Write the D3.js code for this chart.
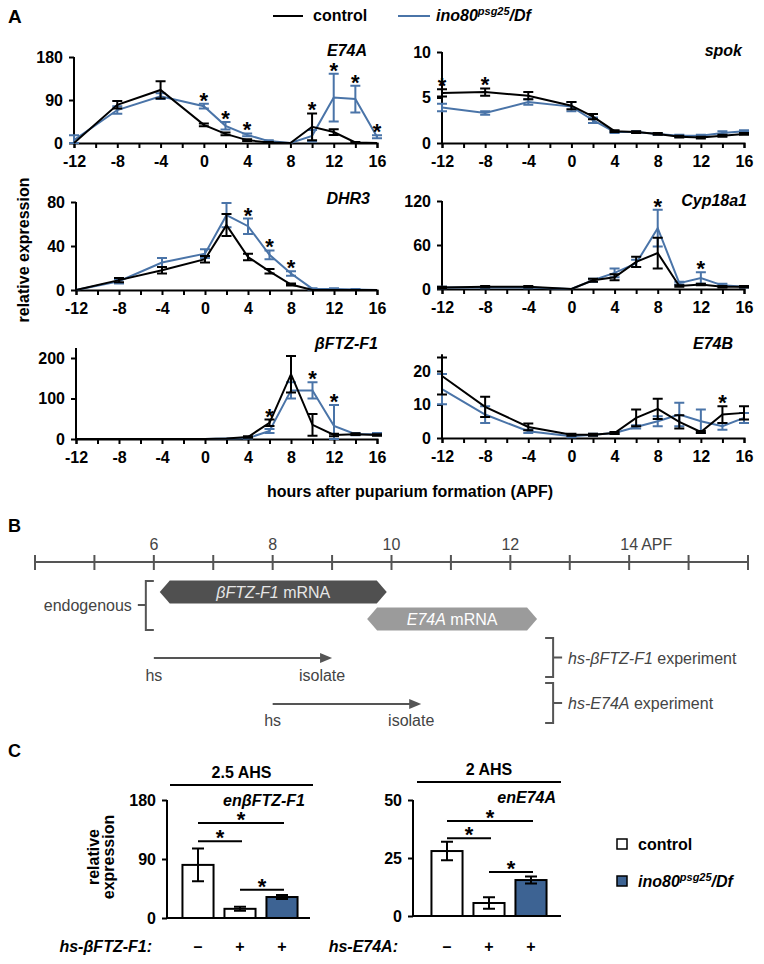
<!DOCTYPE html>
<html><head><meta charset="utf-8">
<script src="https://cdn.jsdelivr.net/npm/d3@7"></script>
<style>
body{margin:0;background:#fff;}
svg{font-family:"Liberation Sans",Arial,sans-serif;}
</style></head>
<body><svg id="c" width="764" height="964"></svg>
<script>
// ---------- DATA ----------
const hours = [-12,-8,-4,0,2,4,6,8,10,12,14,16];
const hourLabels = [-12,-8,-4,0,4,8,12,16];
const seriesNames = ["control","ino80psg25/Df"];

const e74aCtrl = [0,80,111,38,19,6,1,0,34,23,1,0];
const e74aCtrlErr = [0,8,18,3,3,2,1,0,28,6,1,0];
const e74aIno = [6,69,98,77,36,17,4,0,15,95,92,13];
const e74aInoErr = [10,8,6,5,8,3,2,0,12,50,28,3];
const e74aStars = [0,2,4,10,12,14,16];
const e74aTicks = [0,90,180];

const spokCtrl = [5.5,5.6,5.2,4.1,2.9,1.3,1.2,1.0,0.7,0.6,0.8,1.0];
const spokCtrlErr = [0.4,0.4,0.4,0.4,0.3,0.1,0.1,0.1,0.1,0.1,0.1,0.1];
const spokIno = [3.9,3.3,4.5,4.0,2.5,1.2,1.2,1.0,0.8,0.8,1.1,1.3];
const spokInoErr = [0.4,0.2,0.3,0.5,0.3,0.1,0.1,0.1,0.1,0.1,0.2,0.1];
const spokStars = [-12,-8];
const spokTicks = [0,5,10];

const dhr3Ctrl = [0,9,18,28,59,30,17,5,0,0,0,0];
const dhr3CtrlErr = [0,2,3,3,10,3,2,1,0,0,0,0];
const dhr3Ino = [0,8,25,33,68,58,32,15,1,1,0.5,0];
const dhr3InoErr = [0,2,4,4,11,7,4,2,0.5,0.5,0.5,0];
const dhr3Stars = [4,6,8];
const dhr3Ticks = [0,40,80];

const cypCtrl = [2,3,3,0,12,16,37,49,4,6,3,3];
const cypCtrlErr = [1,1,1,0,2,4,7,21,1,1,1,1];
const cypIno = [2,2,2,0,12,22,35,83,8,15,5,3];
const cypInoErr = [1,1,1,0,2,6,5,25,2,8,2,1];
const cypStars = [8,12];
const cypTicks = [0,60,120];

const ftzCtrl = [0,0,0,0,1,5,40,160,35,10,12,10];
const ftzCtrlErr = [0,0,0,0,0,2,8,45,27,3,2,2];
const ftzIno = [0,0,0,0,1,2,20,120,120,32,12,12];
const ftzInoErr = [0,0,0,0,0,1,5,20,20,52,3,3];
const ftzStars = [6,10,12];
const ftzTicks = [0,100,200];

const e74bCtrl = [18.5,9.3,3.3,1,1,1.5,6,8.7,4.8,1.8,7,7.5];
const e74bCtrlErr = [5.5,3,1,0.3,0.3,0.3,2.5,3,2,0.3,2.5,2];
const e74bIno = [14.6,7,2,0.5,1,1.5,3.3,5,7,5,3.5,6];
const e74bInoErr = [4.5,2.5,0.5,0.3,0.3,0.3,0.5,1.5,3.5,3.5,1,1.5];
const e74bStars = [14];
const e74bTicks = [0,10,20];

// Panel B (hours APF)
const timelineHours = [4,5,6,7,8,9,10,11,12,13,14,15,16];
const timelineLabels = [6,8,10,12,14];
const mrnaNames = ["βFTZ-F1","E74A"];
const mrnaStart = [6.1,9.59];
const mrnaEnd = [9.92,12.45];
const hsStart = [6,8];
const isolateAt = [9,10.5];
const experimentNames = ["hs-βFTZ-F1","hs-E74A"];

// Panel C
const cConditions = ["–","+","+"];
const cGenotype = ["control","control","ino80"];
const ftzC = [81,14,32];
const ftzCErr = [25,3,3];
const ftzCTicks = [0,90,180];
const ftzCSig = [[0,1,117],[0,2,145],[1,2,43]];
const e74aC = [28,5.6,15.5];
const e74aCErr = [4,2.5,1.5];
const e74aCTicks = [0,25,50];
const e74aCSig = [[0,1,33.5],[0,2,41],[1,2,19]];

// ---------- DRAW ----------
const BLUE = "#4a74a8", BAR = "#3d6393", GRAY = "#555";
const svg = d3.select("#c");
const FS = 16;

function label(g, txt, x, y, opt={}) {
  return g.append("text").attr("x",x).attr("y",y).text(txt)
    .attr("font-size", opt.size||FS).attr("font-weight", opt.weight||"bold")
    .attr("font-style", opt.style||"normal").attr("text-anchor", opt.anchor||"start")
    .attr("fill", opt.fill||"#000");
}
function star(g, x, yLine) {
  return label(g,"*",x,yLine+4,{anchor:"middle",size:22});
}
function inoText(g, x, y, anchor) {
  const t = g.append("text").attr("x",x).attr("y",y).attr("font-size",FS)
    .attr("font-weight","bold").attr("font-style","italic").attr("text-anchor",anchor||"start");
  t.append("tspan").text("ino80");
  t.append("tspan").text("psg25").attr("font-size",11).attr("dy",-6);
  t.append("tspan").text("/Df").attr("dy",6);
  return t;
}

// Panel A
const panels = [
  {name:"E74A", c:e74aCtrl, ce:e74aCtrlErr, i:e74aIno, ie:e74aInoErr, st:e74aStars, ticks:e74aTicks, max:180, x0:74, x1:377, y0:143, yT:57, labY:56, lx:367},
  {name:"spok", c:spokCtrl, ce:spokCtrlErr, i:spokIno, ie:spokInoErr, st:spokStars, ticks:spokTicks, max:10, x0:442, x1:744, y0:143, yT:52, labY:56, lx:742},
  {name:"DHR3", c:dhr3Ctrl, ce:dhr3CtrlErr, i:dhr3Ino, ie:dhr3InoErr, st:dhr3Stars, ticks:dhr3Ticks, max:80, x0:76, x1:377, y0:290, yT:202, labY:204, lx:370},
  {name:"Cyp18a1", c:cypCtrl, ce:cypCtrlErr, i:cypIno, ie:cypInoErr, st:cypStars, ticks:cypTicks, max:120, x0:442, x1:744, y0:289, yT:201, labY:206, lx:747},
  {name:"βFTZ-F1", c:ftzCtrl, ce:ftzCtrlErr, i:ftzIno, ie:ftzInoErr, st:ftzStars, ticks:ftzTicks, max:200, x0:76, x1:377, y0:439, yT:358, top:225, labY:349, lx:378},
  {name:"E74B", c:e74bCtrl, ce:e74bCtrlErr, i:e74bIno, ie:e74bInoErr, st:e74bStars, ticks:e74bTicks, max:20, x0:442, x1:744, y0:438, yT:371, top:25, labY:349, lx:733}
];

panels.forEach(p => {
  const g = svg.append("g");
  const x = d3.scaleLinear().domain([-12,16]).range([p.x0,p.x1]);
  const y = d3.scaleLinear().domain([0,p.max]).range([p.y0,p.yT]);
  const top = p.top || p.max;
  const xa = d3.axisBottom(x).tickValues(d3.range(-12,17,2)).tickSize(5).tickPadding(8)
    .tickFormat(d => hourLabels.includes(d) ? d : "");
  const gx = g.append("g").attr("transform",`translate(0,${p.y0})`).call(xa);
  const ya = d3.axisLeft(y).tickValues(p.ticks).tickSize(5).tickPadding(6);
  const gy = g.append("g").attr("transform",`translate(${p.x0},0)`).call(ya);
  gy.select(".domain").attr("d",`M0,${p.y0}V${y(top)}`);
  [gx,gy].forEach(a => {
    a.select(".domain").attr("stroke","#000").attr("stroke-width",2);
    a.selectAll(".tick line").attr("stroke","#000").attr("stroke-width",2);
    a.selectAll("text").attr("font-size",FS).attr("font-weight","bold").attr("fill","#000")
      .attr("font-family","Liberation Sans, Arial, sans-serif");
  });
  const line = d3.line().x((d,k)=>x(hours[k])).y(d=>y(d));
  const series = [{v:p.i, e:p.ie, col:BLUE},{v:p.c, e:p.ce, col:"#000"}];
  series.forEach(s => {
    g.append("path").attr("d",line(s.v)).attr("fill","none").attr("stroke",s.col).attr("stroke-width",2);
    s.v.forEach((v,k) => {
      if (!s.e[k]) return;
      const hx = x(hours[k]), yt = y(v+s.e[k]), yb = y(Math.max(0,v-s.e[k]));
      g.append("path").attr("d",`M${hx},${yt}V${yb}M${hx-5},${yt}H${hx+5}M${hx-5},${yb}H${hx+5}`)
        .attr("stroke",s.col).attr("stroke-width",2).attr("fill","none");
    });
  });
  p.st.forEach(h => {
    const k = hours.indexOf(h);
    const t = Math.max(p.c[k]+p.ce[k], p.i[k]+p.ie[k]);
    star(g, x(h), y(t));
  });
  label(g,p.name,p.lx,p.labY,{anchor:"end",style:"italic"});
});

// A labels & legend
label(svg,"A",8,23,{size:19});
svg.append("line").attr("x1",273).attr("x2",303).attr("y1",16).attr("y2",16).attr("stroke","#000").attr("stroke-width",2);
label(svg,seriesNames[0],313,21);
svg.append("line").attr("x1",398).attr("x2",430).attr("y1",16).attr("y2",16).attr("stroke",BLUE).attr("stroke-width",2);
inoText(svg,436,21);
svg.append("text").attr("transform","translate(29,250) rotate(-90)").attr("text-anchor","middle")
  .attr("font-size",FS).attr("font-weight","bold").text("relative expression");
label(svg,"hours after puparium formation (APF)",410,497,{anchor:"middle"});

// Panel B
label(svg,"B",8,532,{size:18});
const xb = d3.scaleLinear().domain([4,16]).range([35,748]);
const gb = svg.append("g");
gb.append("line").attr("x1",xb(4)).attr("x2",xb(16)).attr("y1",562).attr("y2",562).attr("stroke",GRAY).attr("stroke-width",2);
gb.selectAll(".tk").data(timelineHours).join("line").attr("x1",d=>xb(d)).attr("x2",d=>xb(d))
  .attr("y1",555).attr("y2",570).attr("stroke",GRAY).attr("stroke-width",2);
timelineLabels.forEach(h => {
  label(gb,h,xb(h),550,{anchor:"middle",weight:"normal",fill:"#444",size:16});
  if (h===14) label(gb,"APF",xb(h)+12,550,{weight:"normal",fill:"#444",size:16});
});
const hexY = [592,619], hexFill = ["#505050","#9b9b9b"];
mrnaNames.forEach((n,k) => {
  const a = xb(mrnaStart[k]), b = xb(mrnaEnd[k]), cy = hexY[k], hh = 11.5;
  gb.append("path").attr("d",`M${a},${cy}L${a+10},${cy-hh}H${b-10}L${b},${cy}L${b-10},${cy+hh}H${a+10}Z`).attr("fill",hexFill[k]);
  const t = gb.append("text").attr("x",(a+b)/2).attr("y",cy+6).attr("text-anchor","middle")
    .attr("font-size",FS).attr("fill",k===0?"#e6e6e6":"#fff");
  t.append("tspan").text(n).attr("font-style","italic");
  t.append("tspan").text(" mRNA");
});
const bx = xb(6)-8;
gb.append("path").attr("d",`M${bx+8},581H${bx}V630H${bx+8}M${bx},605H${bx-8}`).attr("fill","none").attr("stroke",GRAY).attr("stroke-width",2);
label(gb,"endogenous",bx-14,611,{anchor:"end",weight:"normal",fill:"#444"});
const arrY = [658,704], arrLabY = [681,726];
hsStart.forEach((h,k) => {
  const a = xb(h), b = xb(isolateAt[k]);
  gb.append("line").attr("x1",a).attr("x2",b-10).attr("y1",arrY[k]).attr("y2",arrY[k]).attr("stroke",GRAY).attr("stroke-width",2);
  gb.append("path").attr("d",`M${b},${arrY[k]}L${b-12},${arrY[k]-5}V${arrY[k]+5}Z`).attr("fill",GRAY);
  label(gb,"hs",a,arrLabY[k],{anchor:"middle",weight:"normal",fill:"#444"});
  label(gb,"isolate",b-10,arrLabY[k],{anchor:"middle",weight:"normal",fill:"#444"});
});
const rbx = xb(12.72), rbTop = [638,683], rbBot = [677,723];
experimentNames.forEach((n,k) => {
  const m = (rbTop[k]+rbBot[k])/2;
  gb.append("path").attr("d",`M${rbx-8},${rbTop[k]}H${rbx}V${rbBot[k]}H${rbx-8}M${rbx},${m}H${rbx+9}`).attr("fill","none").attr("stroke",GRAY).attr("stroke-width",2);
  const t = gb.append("text").attr("x",rbx+15).attr("y",m+6).attr("font-size",FS).attr("fill","#444");
  t.append("tspan").text(n).attr("font-style","italic");
  t.append("tspan").text(" experiment");
});

// Panel C
label(svg,"C",8,757,{size:18});
function barChart(cfg) {
  const g = svg.append("g");
  const x = d3.scaleBand().domain([0,1,2]).range(cfg.xr).paddingInner(0.26).paddingOuter(0.13);
  const y = d3.scaleLinear().domain([0,cfg.max]).range(cfg.yr);
  const ya = d3.axisLeft(y).tickValues(cfg.ticks).tickSize(5).tickPadding(6);
  const gy = g.append("g").attr("transform",`translate(${cfg.ax},0)`).call(ya);
  gy.select(".domain").attr("d",`M0,${cfg.yr[0]}V${cfg.yr[1]}`).attr("stroke","#000").attr("stroke-width",2);
  gy.selectAll(".tick line").attr("stroke","#000").attr("stroke-width",2);
  gy.selectAll("text").attr("font-size",FS).attr("font-weight","bold").attr("font-family","Liberation Sans, Arial, sans-serif");
  g.append("line").attr("x1",cfg.ax).attr("x2",cfg.axEnd).attr("y1",cfg.yr[0]).attr("y2",cfg.yr[0]).attr("stroke","#000").attr("stroke-width",2);
  cfg.vals.forEach((v,k) => {
    g.append("rect").attr("x",x(k)).attr("width",x.bandwidth()).attr("y",y(v)).attr("height",y(0)-y(v))
      .attr("fill",cGenotype[k]==="control"?"#fff":BAR).attr("stroke","#000").attr("stroke-width",2);
    const cx = x(k)+x.bandwidth()/2, yt = y(v+cfg.err[k]), yb = y(v-cfg.err[k]);
    g.append("path").attr("d",`M${cx},${yt}V${yb}M${cx-6},${yt}H${cx+6}M${cx-6},${yb}H${cx+6}`).attr("stroke","#000").attr("stroke-width",2).attr("fill","none");
    label(g,cConditions[k],cx,952,{anchor:"middle"});
  });
  cfg.sig.forEach(([a,b,h]) => {
    const xa = x(a)+x.bandwidth()/2, xbb = x(b)+x.bandwidth()/2 + 2;
    g.append("line").attr("x1",xa).attr("x2",xbb).attr("y1",y(h)).attr("y2",y(h)).attr("stroke","#000").attr("stroke-width",2);
    star(g,(xa+xbb)/2,y(h));
  });
  label(g,cfg.title,(cfg.hl[0]+cfg.hl[1])/2,cfg.hy-7,{anchor:"middle"});
  g.append("line").attr("x1",cfg.hl[0]).attr("x2",cfg.hl[1]).attr("y1",cfg.hy).attr("y2",cfg.hy).attr("stroke","#000").attr("stroke-width",2);
  label(g,cfg.gene,cfg.axEnd-5,cfg.geneY,{anchor:"end",style:"italic"});
  g.append("text").attr("x",cfg.ax-15).attr("y",952).attr("text-anchor","end")
    .attr("font-size",FS).attr("font-weight","bold").attr("font-style","italic").text(cfg.xlab);
  return g;
}
barChart({xr:[177,303],yr:[918,800],max:180,ticks:ftzCTicks,ax:167,axEnd:310,vals:ftzC,err:ftzCErr,sig:ftzCSig,
  title:"2.5 AHS",hl:[170,313],hy:785,gene:"enβFTZ-F1",geneY:806,xlab:"hs-βFTZ-F1:"});
barChart({xr:[426,552],yr:[916,800],max:50,ticks:e74aCTicks,ax:413,axEnd:561,vals:e74aC,err:e74aCErr,sig:e74aCSig,
  title:"2 AHS",hl:[417,561],hy:782,gene:"enE74A",geneY:803,xlab:"hs-E74A:"});
const yl = svg.append("text").attr("transform","translate(99,857) rotate(-90)").attr("text-anchor","middle")
  .attr("font-size",FS).attr("font-weight","bold");
yl.append("tspan").attr("x",0).attr("dy",0).text("relative");
yl.append("tspan").attr("x",0).attr("dy",15).text("expression");
svg.append("rect").attr("x",617).attr("y",839).attr("width",10).attr("height",10).attr("fill","#fff").attr("stroke","#000").attr("stroke-width",1.5);
label(svg,"control",638,850);
svg.append("rect").attr("x",617).attr("y",876).attr("width",10).attr("height",10).attr("fill",BAR).attr("stroke","#000").attr("stroke-width",1.5);
inoText(svg,638,887);
</script></body></html>
